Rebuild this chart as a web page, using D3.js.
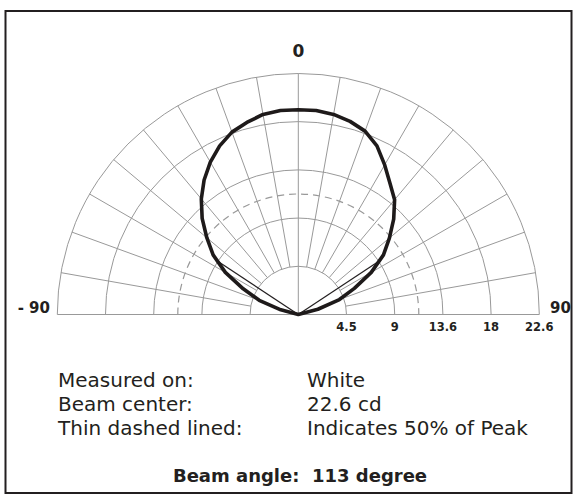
<!DOCTYPE html>
<html>
<head>
<meta charset="utf-8">
<script src="https://cdn.jsdelivr.net/npm/d3@7"></script>
<style>
  html, body { margin: 0; padding: 0; background: #fff; }
  svg { display: block; }
  text { font-family: "DejaVu Sans", Verdana, sans-serif; fill: #231f20; white-space: pre; }
</style>
</head>
<body>
<svg id="chart" width="576" height="495"></svg>
<script>
// ---- data ----
const angles = [-90,-85,-80,-75,-70,-65,-60,-55,-50,-45,-40,-35,-30,-25,-20,-15,-10,-5,0,5,10,15,20,25,30,35,40,45,50,55,60,65,70,75,80,85,90];
const intensity = [0,0,0,1.7,3.9,5.7,7.9,9.75,11.2,12.75,14.15,15.4,16.5,17.45,18.2,18.65,19.05,19.2,19.2,19.2,19.05,18.75,18.3,17.45,16.2,15.0,14.05,12.65,11.15,9.75,7.9,5.8,4.1,1.9,0,0,0];
const ringValues = [4.52, 9.04, 13.56, 18.08, 22.6];
const ringLabels = ["4.5", "9", "13.6", "18", "22.6"];
const spokeAngles = [-80,-70,-60,-50,-40,-30,-20,-10,10,20,30,40,50,60,70,80];
const maxValue = 22.6;
const halfPeak = 11.3;
const beamHalfAngles = [-56.5, 56.5];
const beamEdgeValue = 9.1;
const infoLabels = ["Measured on:", "Beam center:", "Thin dashed lined:"];
const infoValues = ["White", "22.6 cd", "Indicates 50% of Peak"];
const titleText = "Beam angle:  113 degree";

// ---- layout ----
const svg = d3.select("#chart");
const cx = 298.3, cy = 314.5;
const r = d3.scaleLinear().domain([0, maxValue]).range([0, 241]);
const a = d3.scaleLinear().domain([-90, 90]).range([-Math.PI/2, Math.PI/2]);
const gridColor = "#999";

// frame
svg.append("rect").attr("x", 5.5).attr("y", 11).attr("width", 566).attr("height", 482)
  .attr("fill", "none").attr("stroke", "#231f20").attr("stroke-width", 2);

const g = svg.append("g").attr("transform", `translate(${cx},${cy})`);

function arcPath(rad) {
  const p = d3.path();
  p.arc(0, 0, rad, Math.PI, 2 * Math.PI);
  return p.toString();
}

// spokes
g.selectAll(".spoke").data(spokeAngles).join("line")
  .attr("x1", d => r(ringValues[0]) * Math.sin(a(d)))
  .attr("y1", d => -r(ringValues[0]) * Math.cos(a(d)))
  .attr("x2", d => r(maxValue) * Math.sin(a(d)))
  .attr("y2", d => -r(maxValue) * Math.cos(a(d)))
  .attr("stroke", gridColor).attr("stroke-width", 1);
g.append("line").attr("x1", 0).attr("y1", 0).attr("x2", 0).attr("y2", -r(maxValue))
  .attr("stroke", gridColor).attr("stroke-width", 1);
g.append("line").attr("x1", -r(maxValue)).attr("y1", 0).attr("x2", r(maxValue)).attr("y2", 0)
  .attr("stroke", gridColor).attr("stroke-width", 1);

// rings
g.selectAll(".ring").data(ringValues).join("path")
  .attr("d", d => arcPath(r(d)))
  .attr("fill", "none").attr("stroke", gridColor).attr("stroke-width", 1);

// 50% dashed ring
g.append("path").attr("d", arcPath(r(halfPeak)))
  .attr("fill", "none").attr("stroke", gridColor).attr("stroke-width", 1.2)
  .attr("stroke-dasharray", "7,5");

// beam edge lines
g.selectAll(".edge").data(beamHalfAngles).join("line")
  .attr("x1", 0).attr("y1", 0)
  .attr("x2", d => r(beamEdgeValue) * Math.sin(a(d)))
  .attr("y2", d => -r(beamEdgeValue) * Math.cos(a(d)))
  .attr("stroke", "#231f20").attr("stroke-width", 1.2);

// intensity curve
const pts = angles.map((d, i) => [a(d), r(intensity[i])]);
g.append("path")
  .attr("d", d3.lineRadial().angle(d => d[0]).radius(d => d[1]).curve(d3.curveLinearClosed)(pts))
  .attr("fill", "none").attr("stroke", "#1e1a1a").attr("stroke-width", 3.6)
  .attr("stroke-linejoin", "round");

// ring labels
g.selectAll(".rl").data(ringValues).join("text")
  .attr("x", d => r(d)).attr("y", 16.5)
  .attr("text-anchor", "middle").attr("font-weight", "bold").attr("font-size", 11.5)
  .text((d, i) => ringLabels[i]);

// angle labels
svg.append("text").attr("x", cx).attr("y", 57).attr("text-anchor", "middle")
  .attr("font-weight", "bold").attr("font-size", 17).text("0");
svg.append("text").attr("x", 50).attr("y", 313).attr("text-anchor", "end")
  .attr("font-weight", "bold").attr("font-size", 15).text("- 90");
svg.append("text").attr("x", 550).attr("y", 313).attr("text-anchor", "start")
  .attr("font-weight", "bold").attr("font-size", 15).text("90");

// info text
const baselines = [387, 411, 435];
svg.selectAll(".il").data(infoLabels).join("text")
  .attr("x", 58).attr("y", (d, i) => baselines[i]).attr("font-size", 20).text(d => d);
svg.selectAll(".iv").data(infoValues).join("text")
  .attr("x", 307).attr("y", (d, i) => baselines[i]).attr("font-size", 20).text(d => d);

svg.append("text").attr("x", 300).attr("y", 481.5).attr("text-anchor", "middle")
  .attr("font-weight", "bold").attr("font-size", 18).text(titleText);
</script>
</body>
</html>
